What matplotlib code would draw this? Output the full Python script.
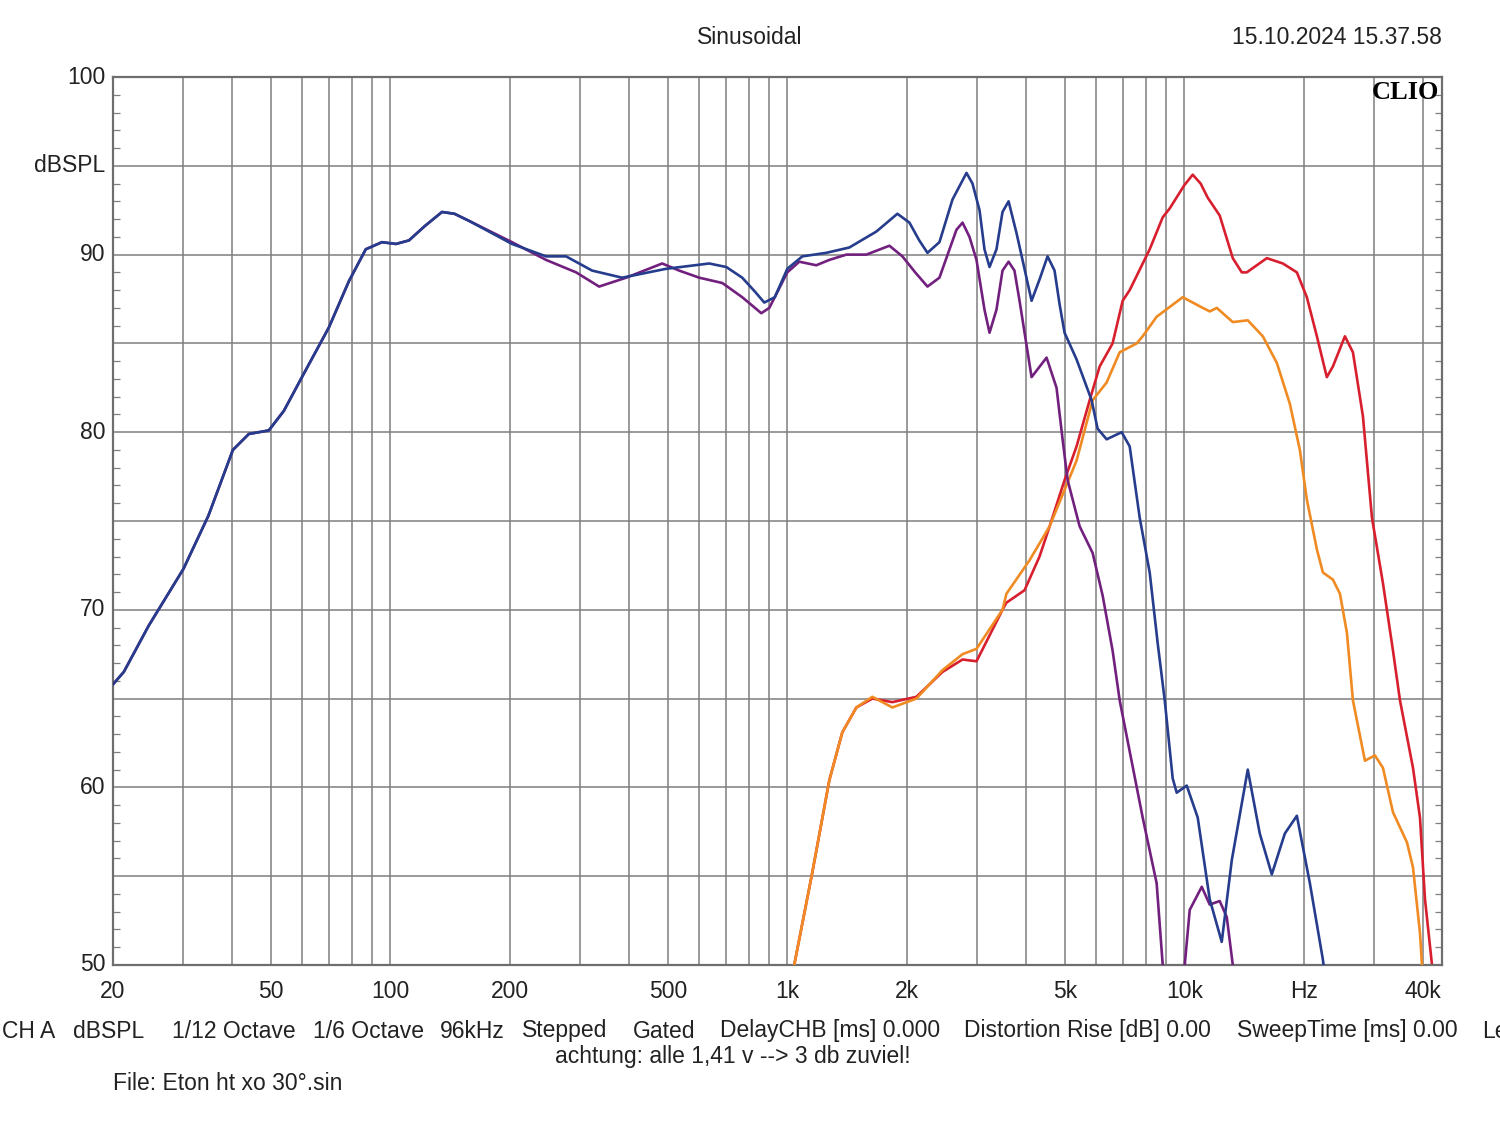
import matplotlib.pyplot as plt
from matplotlib.ticker import FixedLocator, NullFormatter, MultipleLocator

plt.rcParams['font.family'] = ['Liberation Sans', 'DejaVu Sans']

# blue: full range response
blue_f = [20, 21.3, 24.6, 30.1, 34.8, 40.1, 44.0, 49.4, 53.9, 60.2, 70.0, 78.6, 86.7,
          95.2, 103.3, 111.4, 122, 134.9, 145, 157.8, 202.5, 246.8, 277.1, 322.3, 383.6, 495.2,
          635.8, 702, 770, 830, 875, 930, 1000, 1091, 1254, 1433, 1677, 1894, 2031, 2150,
          2255, 2417, 2607, 2828, 2928, 3050, 3139, 3232, 3365, 3485, 3610, 3781, 3914,
          4125, 4320, 4526, 4713, 4853, 4995, 5355, 5844, 6050, 6376, 6957,
          7288, 7722, 8185, 8575, 8931, 9354, 9574, 10146, 10815, 11594, 12432, 13178,
          14458, 15500, 16620, 17926, 19222, 20730, 22356, 23280]
blue_db = [65.8, 66.5, 69.1, 72.3, 75.3, 79.0, 79.9, 80.1, 81.2, 83.2, 85.9, 88.5, 90.3,
           90.7, 90.6, 90.8, 91.6, 92.4, 92.3, 91.9, 90.6, 89.9, 89.9, 89.1, 88.7, 89.2,
           89.5, 89.3, 88.7, 87.9, 87.3, 87.6, 89.2, 89.9, 90.1, 90.4, 91.3, 92.3, 91.8, 90.8,
           90.1, 90.7, 93.1, 94.6, 94.0, 92.5, 90.3, 89.3, 90.3, 92.4, 93.0, 91.2, 89.7,
           87.4, 88.6, 89.9, 89.1, 87.2, 85.6, 84.1, 81.8, 80.2, 79.6, 80.0,
           79.2, 75.2, 72.1, 68.1, 64.9, 60.5, 59.7, 60.1, 58.3, 53.7, 51.3, 55.9,
           61.0, 57.4, 55.1, 57.4, 58.4, 54.6, 50.3, 47.0]

# purple: woofer branch
purple_f = [20, 21.3, 24.6, 30.1, 34.8, 40.1, 44.0, 49.4, 53.9, 60.2, 70.0, 78.6, 86.7,
            95.2, 103.3, 111.4, 122, 134.9, 145, 157.8, 202.5, 246.8, 293.7, 335.6, 392.7, 484,
            534, 600, 686, 770, 860, 901, 1000, 1072, 1183, 1276, 1409, 1582, 1808, 1950,
            2100, 2255, 2417, 2668, 2764, 2877, 2997, 3139, 3232, 3365, 3485, 3610, 3735,
            3847, 4125, 4500, 4768, 4938, 5085, 5451,
            5878, 6230, 6600, 6877, 7859, 8522, 8828, 9500, 10030, 10325, 11070, 11594,
            12287, 12800, 13255, 14000]
purple_db = [65.8, 66.5, 69.1, 72.3, 75.3, 79.0, 79.9, 80.1, 81.2, 83.2, 85.9, 88.5, 90.3,
             90.7, 90.6, 90.8, 91.6, 92.4, 92.3, 91.9, 90.7, 89.7, 89.0, 88.2, 88.7, 89.5,
             89.1, 88.7, 88.4, 87.6, 86.7, 87.0, 89.0, 89.6, 89.4, 89.7, 90.0, 90.0, 90.5, 89.9,
             89.0, 88.2, 88.7, 91.4, 91.8, 91.0, 89.7, 86.9, 85.6, 86.9, 89.1, 89.6, 89.1,
             87.4, 83.1, 84.2, 82.5, 79.6, 77.3, 74.7,
             73.2, 70.8, 67.7, 64.9, 58.3, 54.6, 50.0, 40.0, 50.0, 53.1, 54.4, 53.4,
             53.6, 52.7, 50.0, 45.0]

# red: full tweeter response
red_f = [950, 1041, 1156, 1276, 1376, 1493, 1638, 1840, 2115, 2460, 2764, 2997, 3485,
         3565, 3960, 4320, 4580, 4995, 5355, 5778, 6123, 6600, 6997, 7288, 8185, 8828,
         9193, 10000, 10505, 11000, 11464, 12287, 13255, 13964, 14377, 16148, 17720, 19222,
         20370, 21590, 22870, 23690, 25400, 26610, 28200, 29710, 31670, 33570, 34960, 37700,
         39260, 40420, 42100, 44000]
red_db = [44.0, 50.0, 55.2, 60.4, 63.1, 64.5, 65.0, 64.8, 65.1, 66.5, 67.2, 67.1, 70.0,
          70.4, 71.1, 73.0, 74.7, 77.3, 79.2, 81.8, 83.7, 85.0, 87.4, 88.0, 90.3, 92.1,
          92.6, 93.9, 94.5, 94.0, 93.2, 92.2, 89.8, 89.0, 89.0, 89.8, 89.5, 89.0,
          87.6, 85.4, 83.1, 83.7, 85.4, 84.5, 80.9, 75.2, 71.5, 67.7, 64.9, 61.1,
          58.3, 53.7, 50.0, 45.0]

# orange: tweeter branch
orange_f = [950, 1041, 1156, 1276, 1376, 1493, 1638, 1840, 2115, 2460, 2764, 2997, 3485,
            3565, 4080, 4580, 5355, 5878, 6376, 6877, 7590, 7859, 8522, 9913, 11134,
            11600, 12078, 13255, 14458, 15776, 17115, 18456, 19560, 20370, 21590, 22356,
            23690, 24680, 25700, 26610, 28530, 30230, 31670, 33570, 36410, 37700, 39260,
            39720, 42000]
orange_db = [44.0, 50.0, 55.2, 60.4, 63.1, 64.5, 65.1, 64.5, 65.0, 66.6, 67.5, 67.8, 70.0,
             70.9, 72.8, 74.7, 78.4, 81.8, 82.8, 84.5, 85.0, 85.4, 86.5, 87.6, 87.0,
             86.8, 87.0, 86.2, 86.3, 85.4, 83.9, 81.6, 79.0, 76.2, 73.4, 72.1,
             71.7, 70.9, 68.7, 64.9, 61.5, 61.8, 61.1, 58.6, 56.9, 55.5, 51.8,
             50.0, 44.0]

grid_freqs = [20, 30, 40, 50, 60, 70, 80, 90, 100, 200, 300, 400, 500, 600, 700, 800, 900,
              1000, 2000, 3000, 4000, 5000, 6000, 7000, 8000, 9000, 10000, 20000, 30000, 40000]
label_freqs = [20, 50, 100, 200, 500, 1000, 2000, 5000, 10000, 20000, 40000]
label_texts = ['20', '50', '100', '200', '500', '1k', '2k', '5k', '10k', 'Hz', '40k']
y_ticks = [50, 60, 70, 80, 90, 95, 100]
y_texts = ['50', '60', '70', '80', '90', 'dBSPL', '100']

fig = plt.figure(figsize=(15, 11.21), dpi=100)
ax = fig.add_axes([0.0753, 0.1392, 0.886, 0.7921])

ax.plot(blue_f, blue_db, color='#263c8c', lw=1.9, zorder=5)
ax.plot(purple_f, purple_db, color='#72207e', lw=1.9, zorder=4)
ax.plot(orange_f, orange_db, color='#f08a22', lw=1.9, zorder=3)
ax.plot(red_f, red_db, color='#d81f2e', lw=1.9, zorder=2)

ax.set_xscale('log')
ax.set_xlim(20, 44600)
ax.set_ylim(50, 100)

ax.xaxis.set_major_locator(FixedLocator(grid_freqs))
ax.xaxis.set_major_formatter(NullFormatter())
ax.xaxis.set_minor_locator(FixedLocator([]))
ax.tick_params(axis='x', which='both', length=0)
ax.grid(True, axis='x', color='#7f7f7f', lw=1.1)

ax.yaxis.set_major_locator(MultipleLocator(5))
ax.yaxis.set_minor_locator(MultipleLocator(1))
ax.yaxis.set_major_formatter(NullFormatter())
ax.tick_params(axis='y', which='both', direction='in', left=True, right=True,
               color='#7f7f7f', labelleft=False)
ax.tick_params(axis='y', which='major', length=0)
ax.tick_params(axis='y', which='minor', length=5, width=0.9)
ax.grid(True, axis='y', color='#7f7f7f', lw=1.1)

for s in ax.spines.values():
    s.set_color('#6e6e6e')
    s.set_linewidth(1.6)

fs = 16.5
for f, t in zip(label_freqs, label_texts):
    ax.text(f, 48.5, t, ha='center', va='center', fontsize=fs, color='#222222')
for v, t in zip(y_ticks, y_texts):
    ax.text(0.0705, (v - 50) / 50 * 0.7921 + 0.1392, t, transform=fig.transFigure,
            ha='right', va='center', fontsize=fs, color='#222222')

ax.text(0.998, 0.996, 'CLIO', transform=ax.transAxes, ha='right', va='top',
        fontsize=19, fontweight='bold', family='Liberation Serif', color='black')

fig.text(750 / 1500, 1 - 38 / 1121, 'Sinusoidal', ha='center', va='center',
         fontsize=fs, color='#222222')
fig.text(1442 / 1500, 1 - 38 / 1121, '15.10.2024 15.37.58', ha='right', va='center',
         fontsize=fs, color='#222222')

info_items = ['CH A', 'dBSPL', '1/12 Octave', '1/6 Octave', '96kHz', 'Stepped', 'Gated',
              'DelayCHB [ms] 0.000', 'Distortion Rise [dB] 0.00', 'SweepTime [ms] 0.00', 'Le']
info_x = [2, 73, 172, 313, 440, 522, 633, 720, 964, 1237, 1482]
for xp, t in zip(info_x, info_items):
    fig.text(xp / 1500, 1 - 1031 / 1121, t, ha='left', va='center', fontsize=fs,
             color='#222222')
fig.text(733 / 1500, 1 - 1057 / 1121, 'achtung: alle 1,41 v --> 3 db zuviel!',
         ha='center', va='center', fontsize=fs, color='#222222')
fig.text(113 / 1500, 1 - 1084 / 1121, 'File: Eton ht xo 30°.sin', ha='left', va='center',
         fontsize=fs, color='#222222')

fig.savefig('out.png', dpi=100)
